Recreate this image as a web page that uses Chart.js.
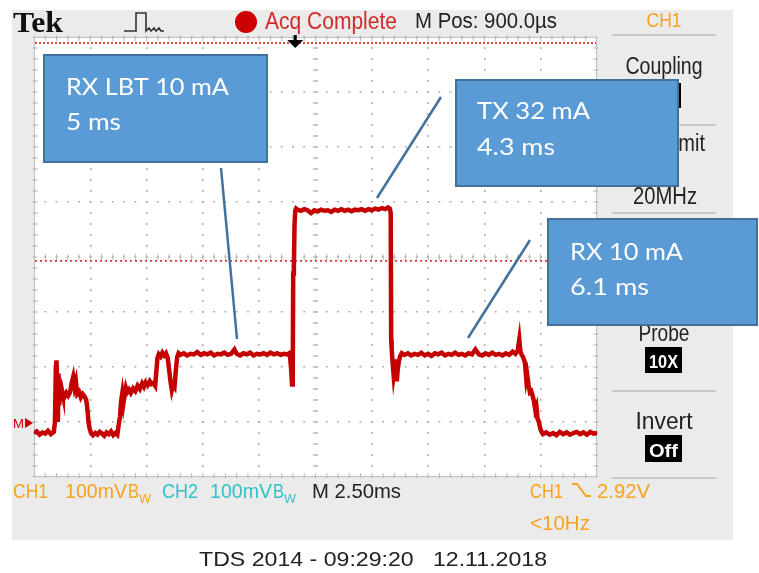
<!DOCTYPE html>
<html>
<head>
<meta charset="utf-8">
<title>TDS 2014 capture</title>
<script src="https://cdn.jsdelivr.net/npm/chart.js@4.4.0/dist/chart.umd.min.js"></script>
<style>
  html, body { margin: 0; padding: 0; background: #fff; }
  #wrap { width: 759px; height: 573px; position: relative; }
</style>
</head>
<body>
<div id="wrap"><canvas id="scope" width="759" height="573"></canvas></div>
<script>
// ── DATA ────────────────────────────────────────────────────
// CH1 trace, time in ms (M 2.50ms/div, 10 div) and level in mV (100mV/div, 8 div)
const timeMs = [
  0, 0.12, 0.25, 0.38, 0.5, 0.62, 0.75, 0.88,
  0.93, 0.97, 1.0, 1.03, 1.06, 1.09, 1.12, 1.16, 1.2, 1.25,
  1.28, 1.36, 1.44, 1.52, 1.6, 1.68, 1.74, 1.8, 1.86, 1.92, 2.0, 2.08, 2.16, 2.24, 2.32,
  2.38, 2.42, 2.47, 2.53,
  2.62, 2.72, 2.82, 2.92, 3.02, 3.12, 3.22, 3.32, 3.42, 3.52, 3.62, 3.7,
  3.76, 3.82, 3.87, 3.92, 3.97, 4.02, 4.08, 4.14, 4.22, 4.3, 4.4, 4.5, 4.6, 4.7, 4.8, 4.88, 4.96, 5.05, 5.14, 5.22, 5.3, 5.38,
  5.44, 5.48, 5.54, 5.62, 5.7, 5.78, 5.86, 5.94, 6.0, 6.06, 6.12, 6.18, 6.24, 6.3, 6.36, 6.42,
  6.5, 6.65, 6.8, 6.95, 7.1, 7.25, 7.4, 7.55, 7.7, 7.85, 8.0, 8.15, 8.3, 8.45, 8.6, 8.75, 8.9, 9.0,
  9.15, 9.3, 9.45, 9.6, 9.75, 9.9, 10.05, 10.2, 10.35, 10.5, 10.65, 10.8, 10.95, 11.1, 11.25, 11.34,
  11.38, 11.42, 11.46, 11.49, 11.51, 11.54, 11.57, 11.6, 11.64,
  11.7, 11.85, 12.0, 12.15, 12.3, 12.45, 12.6, 12.75, 12.9, 13.05, 13.2, 13.35, 13.5, 13.65, 13.8,
  13.95, 14.1, 14.25, 14.4, 14.55, 14.7, 14.85, 15.0, 15.15, 15.3, 15.45, 15.6, 15.72, 15.8,
  15.84, 15.86, 15.88, 15.92, 15.97, 16.02, 16.07, 16.11, 16.15, 16.2, 16.26, 16.33,
  16.45, 16.6, 16.75, 16.9, 17.05, 17.2, 17.35, 17.5, 17.65, 17.8, 17.95, 18.1, 18.25, 18.4, 18.55,
  18.7, 18.85, 19.0, 19.15, 19.3, 19.45, 19.6, 19.75, 19.9, 20.05, 20.2, 20.35, 20.5, 20.65, 20.8,
  20.95, 21.1, 21.25, 21.38, 21.48, 21.55, 21.6, 21.66,
  21.72, 21.8, 21.86, 21.9, 21.96, 22.02, 22.08, 22.14, 22.2, 22.26, 22.31, 22.36, 22.42, 22.48, 22.54,
  22.6, 22.75, 22.9, 23.05, 23.2, 23.35, 23.5, 23.65, 23.8, 23.95, 24.1, 24.25, 24.4, 24.55, 24.7, 24.85, 25.0
];
const ch1mV = [
  -320, -317, -323, -319, -321, -316, -322, -318,
  -300, -200, -188, -235, -300, -212, -270, -228, -262, -244,
  -250, -254, -247, -252, -246, -228, -218, -236, -226, -249, -245, -255, -249, -253, -260,
  -280, -300, -312, -320,
  -324, -320, -323, -318, -321, -325, -319, -322, -317, -324, -320, -323,
  -305, -290, -262, -248, -266, -252, -238, -246, -241, -247, -239, -244, -234, -240, -230, -236, -228, -233, -226, -231, -229, -234,
  -205, -184, -177, -181, -174, -179, -175, -184, -205, -226, -242, -232, -236, -205, -182, -175,
  -178, -175, -179, -176, -177, -173, -178, -175, -177, -174, -179, -176, -177, -174, -178, -176, -168, -176,
  -179, -175, -177, -174, -179, -176, -177, -175, -178, -174, -177, -175, -178, -176, -177, -175,
  -185, -205, -232, -215, -30, -18, 60, 84, 88,
  86, 84, 87, 85, 80, 85, 83, 86, 84, 85, 82, 86, 84, 87, 84,
  86, 83, 86, 85, 87, 84, 87, 85, 88, 86, 89, 87, 90, 88,
  80, -150, -165, -190, -215, -200, -186, -226, -205, -190, -180, -175,
  -178, -175, -179, -176, -178, -174, -179, -176, -180, -175, -177, -174, -179, -176, -178,
  -174, -178, -176, -179, -175, -177, -168, -177, -179, -175, -178, -174, -178, -176, -179,
  -175, -178, -172, -176, -170, -150, -172, -178,
  -182, -192, -222, -214, -232, -246, -244, -252, -262, -278, -272, -294, -300, -312, -318,
  -322, -319, -323, -320, -324, -318, -322, -319, -323, -320, -318, -322, -319, -323, -318, -321, -320
];
const msPerDiv = 2.5;
const mVPerDiv = 100;
const divsX = 10;
const divsY = 8;
const triggerLevelMv = -7;    // red dotted trigger line
const triggerPosMs = 11.6;    // M Pos 900.0µs left of centre
const groundMarkMv = -302;    // "M" reference marker

// ── HELPERS ─────────────────────────────────────────────────
const SANS = '"Liberation Sans", Arial, sans-serif';
const ORANGE = '#F7A31C';
const CYAN = '#2EC3C6';

// draw text squeezed/stretched to a target width (scope font is narrow)
function txt(c, s, x, y, font, color, w, align) {
  c.save();
  c.font = font;
  c.fillStyle = color;
  c.textBaseline = 'alphabetic';
  c.textAlign = 'left';
  const nat = c.measureText(s).width;
  const width = w || nat;
  const left = align === 'center' ? x - width / 2 : x;
  c.translate(left, y);
  c.scale(width / nat, 1);
  c.fillText(s, 0, 0);
  c.restore();
}

function hline(c, x1, x2, y, color, lw) {
  c.save();
  c.strokeStyle = color; c.lineWidth = lw;
  c.beginPath(); c.moveTo(x1, y); c.lineTo(x2, y); c.stroke();
  c.restore();
}

function badge(c, s, x, y, w, h) {
  c.fillStyle = '#000';
  c.fillRect(x, y, w, h);
  txt(c, s, x + w / 2, y + h - 5, 'bold 19px ' + SANS, '#fff', w - 8, 'center');
}

function callout(c, box, lines, from, to) {
  c.save();
  c.strokeStyle = '#41719C';
  c.lineWidth = 2.5;
  c.beginPath(); c.moveTo(from[0], from[1]); c.lineTo(to[0], to[1]); c.stroke();
  c.fillStyle = '#5B9BD5';
  c.fillRect(box[0], box[1], box[2] - box[0], box[3] - box[1]);
  c.lineWidth = 2;
  c.strokeRect(box[0], box[1], box[2] - box[0], box[3] - box[1]);
  lines.forEach(l => txt(c, l.s, l.x, l.y, '24px Lato, "Open Sans", sans-serif', '#fff', l.w));
  c.restore();
}

// ── SCOPE FRAME PLUGIN ──────────────────────────────────────
const scopeFrame = {
  id: 'scopeFrame',
  beforeDraw(chart) {
    const c = chart.ctx;
    const a = chart.chartArea;
    c.save();
    c.fillStyle = '#fff';
    c.fillRect(0, 0, chart.width, chart.height);
    c.fillStyle = '#EBEBEB';
    c.fillRect(12, 10, 721, 530);
    c.fillStyle = '#fff';
    c.fillRect(a.left, a.top, a.right - a.left, a.bottom - a.top);

    // header
    txt(c, 'Tek', 13, 32, 'bold 29px "Liberation Serif", "DejaVu Serif", serif', '#111', 50);
    c.strokeStyle = '#333'; c.lineWidth = 1.6;
    c.beginPath();
    c.moveTo(124, 31); c.lineTo(136, 31); c.lineTo(136, 13); c.lineTo(146, 13); c.lineTo(146, 31);
    c.lineTo(149, 28); c.lineTo(151, 31); c.lineTo(154, 28); c.lineTo(156, 31); c.lineTo(159, 28); c.lineTo(161, 31); c.lineTo(164, 31);
    c.stroke();
    c.fillStyle = '#CC0000';
    c.beginPath(); c.arc(246, 22, 11, 0, Math.PI * 2); c.fill();
    txt(c, 'Acq Complete', 265, 29, '23px ' + SANS, '#D22A2A', 132);
    txt(c, 'M Pos: 900.0µs', 415, 28, '22px ' + SANS, '#222', 142);

    // side menu
    txt(c, 'CH1', 664, 27, '21px ' + SANS, ORANGE, 35, 'center');
    [35, 125, 213, 302, 391, 478].forEach(y => hline(c, 612, 716, y, '#BDBDBD', 1.5));
    txt(c, 'Coupling', 664, 74, '23px ' + SANS, '#222', 77, 'center');
    badge(c, 'DC', 645, 83, 36, 25);
    txt(c, 'BW Limit', 665, 151, '23px ' + SANS, '#222', 80, 'center');
    txt(c, '20MHz', 665, 204, '23px ' + SANS, '#222', 64, 'center');
    txt(c, 'Probe', 664, 341, '23px ' + SANS, '#222', 51, 'center');
    badge(c, '10X', 645, 347, 37, 26);
    txt(c, 'Invert', 664, 429, '23px ' + SANS, '#222', 57, 'center');
    badge(c, 'Off', 645, 435, 37, 27);

    // status line
    const f = '21px ' + SANS;
    txt(c, 'CH1', 13, 498, f, ORANGE, 35);
    txt(c, '100mV', 65, 498, f, ORANGE, 62);
    txt(c, 'B', 128, 498, f, ORANGE, 11);
    txt(c, 'W', 139, 503, '13px ' + SANS, ORANGE, 12);
    txt(c, 'CH2', 162, 498, f, CYAN, 36);
    txt(c, '100mV', 210, 498, f, CYAN, 62);
    txt(c, 'B', 273, 498, f, CYAN, 11);
    txt(c, 'W', 284, 503, '13px ' + SANS, CYAN, 12);
    txt(c, 'M 2.50ms', 312, 498, f, '#222', 89);
    txt(c, 'CH1', 530, 498, f, ORANGE, 33);
    c.strokeStyle = ORANGE; c.lineWidth = 2;
    c.beginPath(); c.moveTo(572, 484); c.lineTo(577, 484); c.lineTo(586, 496); c.lineTo(591, 496); c.stroke();
    txt(c, '2.92V', 597, 498, f, ORANGE, 53);
    txt(c, '<10Hz', 530, 530, f, ORANGE, 60);

    // footer
    txt(c, 'TDS 2014 - 09:29:20   12.11.2018', 373, 566, '20px ' + SANS, '#222', 348, 'center');
    c.restore();
  },
  beforeDatasetsDraw(chart) {
    const c = chart.ctx;
    const a = chart.chartArea;
    const xs = chart.scales.x, ys = chart.scales.y;
    c.save();
    c.strokeStyle = '#C4C4C4'; c.lineWidth = 1.2;
    c.strokeRect(a.left + 0.5, a.top + 0.5, a.right - a.left - 1, a.bottom - a.top - 1);

    // minor ticks on border and centre axes (5 per division)
    const cx = xs.getPixelForValue(msPerDiv * divsX / 2);
    const cy = ys.getPixelForValue(0);
    c.strokeStyle = '#B8B8B8'; c.lineWidth = 1;
    c.beginPath();
    for (let i = 1; i < divsX * 5; i++) {
      const x = xs.getPixelForValue(i * msPerDiv / 5);
      c.moveTo(x, a.bottom); c.lineTo(x, a.bottom - 4);
      c.moveTo(x, a.top); c.lineTo(x, a.top + 4);
      c.moveTo(x, cy - 3); c.lineTo(x, cy + 3);
    }
    for (let i = 1; i < divsY * 5; i++) {
      const y = ys.getPixelForValue(-divsY / 2 * mVPerDiv + i * mVPerDiv / 5);
      c.moveTo(a.left, y); c.lineTo(a.left + 4, y);
      c.moveTo(a.right, y); c.lineTo(a.right - 4, y);
      c.moveTo(cx - 3, y); c.lineTo(cx + 3, y);
    }
    c.stroke();

    // red ruler along the top and trigger level line
    c.setLineDash([2, 2]);
    hline(c, a.left + 1, a.right - 1, a.top + 6, '#E04848', 2);
    c.setLineDash([2, 3]);
    c.strokeStyle = '#D83A3A'; c.lineWidth = 1.6;
    const ty = ys.getPixelForValue(triggerLevelMv);
    c.beginPath(); c.moveTo(a.left + 1, ty); c.lineTo(a.right - 1, ty); c.stroke();
    c.restore();
  },
  afterDatasetsDraw(chart) {
    const c = chart.ctx;
    const a = chart.chartArea;
    const xs = chart.scales.x, ys = chart.scales.y;
    c.save();
    // trigger position arrow
    const tx = xs.getPixelForValue(triggerPosMs);
    c.fillStyle = '#000';
    c.fillRect(tx - 1.5, a.top - 2, 3, 7);
    c.beginPath(); c.moveTo(tx - 8, a.top + 3); c.lineTo(tx + 8, a.top + 3); c.lineTo(tx, a.top + 11); c.closePath(); c.fill();
    // ground marker
    const gy = ys.getPixelForValue(groundMarkMv);
    txt(c, 'M', 13, gy + 5, '13px ' + SANS, '#C40000', 11);
    c.fillStyle = '#C40000';
    c.beginPath(); c.moveTo(25, gy - 5); c.lineTo(33, gy); c.lineTo(25, gy + 5); c.closePath(); c.fill();

    // callouts
    callout(c, [44, 55, 267, 162],
      [{ s: 'RX LBT 10 mA', x: 66, y: 95, w: 163 }, { s: '5 ms', x: 66, y: 130, w: 55 }],
      [221, 168], [237, 339]);
    callout(c, [456, 80, 678, 186],
      [{ s: 'TX 32 mA', x: 477, y: 119, w: 113 }, { s: '4.3 ms', x: 477, y: 155, w: 78 }],
      [441, 97], [377, 198]);
    callout(c, [548, 219, 757, 325],
      [{ s: 'RX 10 mA', x: 570, y: 260, w: 113 }, { s: '6.1 ms', x: 570, y: 295, w: 79 }],
      [530, 240], [468, 338]);
    c.restore();
  }
};

// ── CHART ───────────────────────────────────────────────────
const ctx = document.getElementById('scope');
new Chart(ctx, {
  type: 'line',
  data: {
    datasets: [{
      label: 'CH1',
      data: timeMs.map((t, i) => ({ x: t, y: ch1mV[i] })),
      borderColor: '#C40000',
      borderWidth: 4.5,
      pointRadius: 0,
      tension: 0,
      fill: false
    }]
  },
  options: {
    responsive: false,
    animation: false,
    devicePixelRatio: 1,
    layout: { padding: { left: 34, top: 37, right: 162, bottom: 96 } },
    plugins: { legend: { display: false }, tooltip: { enabled: false } },
    scales: {
      x: {
        type: 'linear', min: 0, max: msPerDiv * divsX,
        ticks: { display: false, stepSize: msPerDiv },
        grid: { color: '#AEAEAE', lineWidth: 1.5, drawTicks: false },
        border: { display: false, dash: [2, 9], dashOffset: 1 },
        afterFit: s => { s.height = 0; }
      },
      y: {
        min: -divsY / 2 * mVPerDiv, max: divsY / 2 * mVPerDiv,
        ticks: { display: false, stepSize: mVPerDiv },
        grid: { color: '#AEAEAE', lineWidth: 1.5, drawTicks: false },
        border: { display: false, dash: [2, 9.26], dashOffset: 1 },
        afterFit: s => { s.width = 0; }
      }
    }
  },
  plugins: [scopeFrame]
});
</script>
</body>
</html>
